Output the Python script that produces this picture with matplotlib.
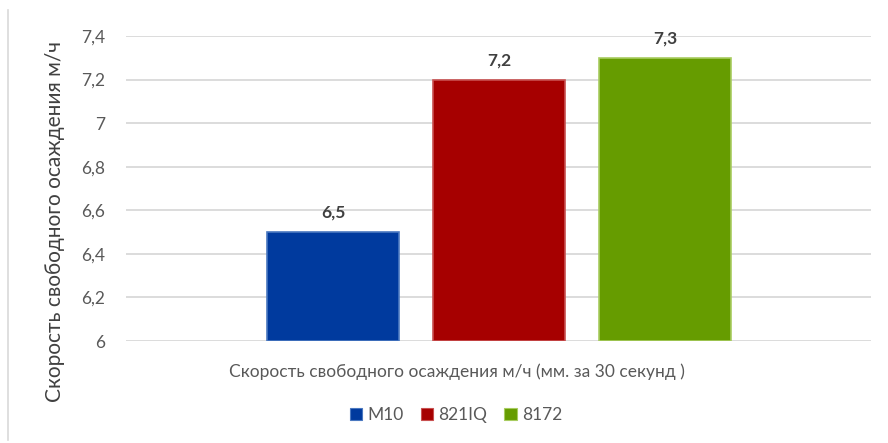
import matplotlib
matplotlib.use("Agg")
import matplotlib.pyplot as plt
from matplotlib.ticker import FuncFormatter, MultipleLocator
from matplotlib.patches import Patch
from matplotlib.lines import Line2D

plt.rcParams['font.family'] = ['Lato', 'DejaVu Sans']

category = "Скорость свободного осаждения м/ч (мм. за 30 секунд )"
series_names = ["M10", "821IQ", "8172"]
series_values = [6.5, 7.2, 7.3]
series_colors = ["#003A9E", "#A60000", "#669C00"]
edge_colors = ["#4A78C0", "#C85050", "#A8CC60"]
y_min, y_max, y_step = 6.0, 7.4, 0.2
y_title = "Скорость свободного осаждения м/ч"

W, H = 888, 443
FS = 12.5
fig = plt.figure(figsize=(W / 100, H / 100), dpi=100)
ax = fig.add_axes([126 / W, 1 - 341 / H, (871 - 126) / W, (341 - 36) / H])

def comma(v, pos=None):
    s = f"{v:.1f}".rstrip("0").rstrip(".")
    return s.replace(".", ",")

n = len(series_values)
offsets = [i - (n - 1) / 2 for i in range(n)]
bar_w = 0.795
for off, val, col, ec, name in zip(offsets, series_values, series_colors, edge_colors, series_names):
    ax.bar(off, val - y_min, bottom=y_min, width=bar_w, color=col,
           edgecolor=ec, linewidth=1.2, label=name, zorder=3)
    ax.annotate(comma(val), xy=(off, val), xytext=(0, 8), textcoords="offset points",
                ha="center", va="bottom", fontsize=FS, fontweight="bold",
                color="#404040", zorder=4)

ax.set_xlim(-2.247, 2.241)
ax.set_ylim(y_min, y_max)
ax.yaxis.set_major_locator(MultipleLocator(y_step))
ax.yaxis.set_major_formatter(FuncFormatter(comma))
ax.grid(axis="y", color="#D9D9D9", linewidth=1.3, zorder=0)
ax.set_xticks([])
for s in ax.spines.values():
    s.set_visible(False)
ax.tick_params(axis="y", length=0, pad=15, labelsize=FS, labelcolor="#595959")

fig.text(457 / W, 1 - 372 / H, category, ha="center", va="center",
         fontsize=FS, color="#595959")
fig.text(55 / W, 1 - 222 / H, y_title, rotation=90, ha="center", va="center",
         fontsize=15, color="#404040")

handles = [Patch(facecolor=c, edgecolor=e, linewidth=0.8) for c, e in zip(series_colors, edge_colors)]
fig.legend(handles, series_names, loc="center", bbox_to_anchor=(456 / W, 1 - 415 / H),
           ncol=3, frameon=False, fontsize=FS, labelcolor="#595959",
           handlelength=0.7, handleheight=0.7, handletextpad=0.3, columnspacing=1.0)

fig.add_artist(Line2D([8 / W, 8 / W], [1 - 440 / H, 1 - 10 / H], color="#D9D9D9", linewidth=1.2))

fig.savefig("out.png", dpi=100, facecolor="white")
